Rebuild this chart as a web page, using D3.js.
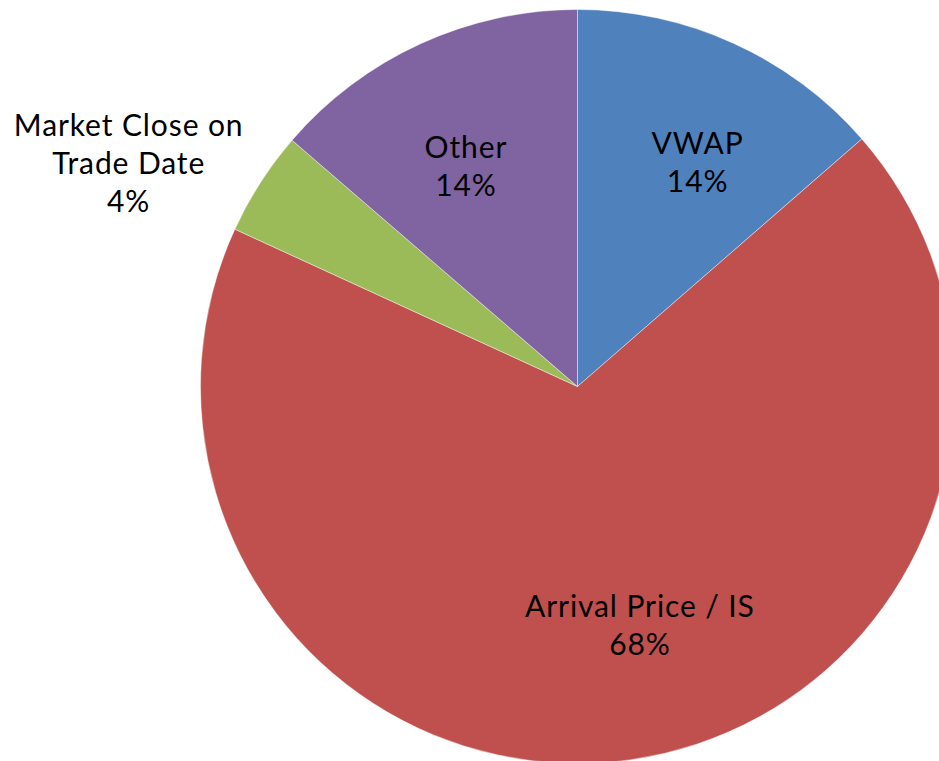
<!DOCTYPE html>
<html>
<head>
<meta charset="utf-8">
<script src="https://cdn.jsdelivr.net/npm/d3@7"></script>
<style>
  html, body { margin: 0; padding: 0; background: #fff; }
  svg text { font-family: Lato, "Open Sans", sans-serif; fill: #000; }
</style>
</head>
<body>
<svg id="pie" width="939" height="761"></svg>
<script>
// slice data, clockwise from 12 o'clock
var categories = ['VWAP', 'Arrival Price / IS', 'Market Close on Trade Date', 'Other'];
var shares = [13.6, 68.25, 4.48, 13.67];
var colours = ['#4F81BD', '#C0504D', '#9BBB59', '#8064A2'];
// label text split into lines (as in the original)
var labelLines = [['VWAP'], ['Arrival Price / IS'], ['Market Close on', 'Trade Date'], ['Other']];

var w = 939, h = 761,
    cx = 577.5, cy = 386.5,
    r = 377;

var svg = d3.select('svg#pie'),
    g = svg.append('g').attr('transform', 'translate(' + cx + ',' + cy + ')');

var pie = d3.pie().sort(null).value(function(d) { return d.v; });
var arcs = pie(categories.map(function(c, i) { return {name: c, v: shares[i], i: i}; }));

var arc = d3.arc().innerRadius(0).outerRadius(r);
var labelArc = d3.arc().innerRadius(r * 0.66).outerRadius(r * 0.66);
var outerArc = d3.arc().innerRadius(r * 1.33).outerRadius(r * 1.33);

g.selectAll('path.slice')
  .data(arcs)
  .enter().append('path')
    .attr('class', 'slice')
    .attr('d', arc)
    .attr('fill', function(d) { return colours[d.data.i]; })
    .attr('stroke', '#fff')
    .attr('stroke-width', 0.6)
    .attr('stroke-opacity', 0.7);

// small nudges so the labels sit where Excel's best-fit put them
var nudge = {0: [17, 2], 1: [27, -7], 2: [-27, 48], 3: [-8, 6]};
var fontSize = 30, lineH = 38;

var lab = g.selectAll('g.lab')
  .data(arcs)
  .enter().append('g')
    .attr('class', 'lab')
    .attr('transform', function(d) {
      var p = d.data.i === 2 ? outerArc.centroid(d) : labelArc.centroid(d);
      var n = nudge[d.data.i];
      return 'translate(' + (p[0] + n[0]) + ',' + (p[1] + n[1]) + ')';
    });

lab.each(function(d) {
  var lines = labelLines[d.data.i].concat([d3.format('.0f')(d.data.v) + '%']);
  var t = d3.select(this).append('text')
    .attr('text-anchor', 'middle')
    .style('font-size', fontSize + 'px')
    .style('letter-spacing', '0.9px');
  lines.forEach(function(s, k) {
    t.append('tspan')
      .attr('x', 0)
      .attr('y', (k - (lines.length - 1) / 2) * lineH)
      .attr('dy', '0.35em')
      .text(s);
  });
});
</script>
</body>
</html>
